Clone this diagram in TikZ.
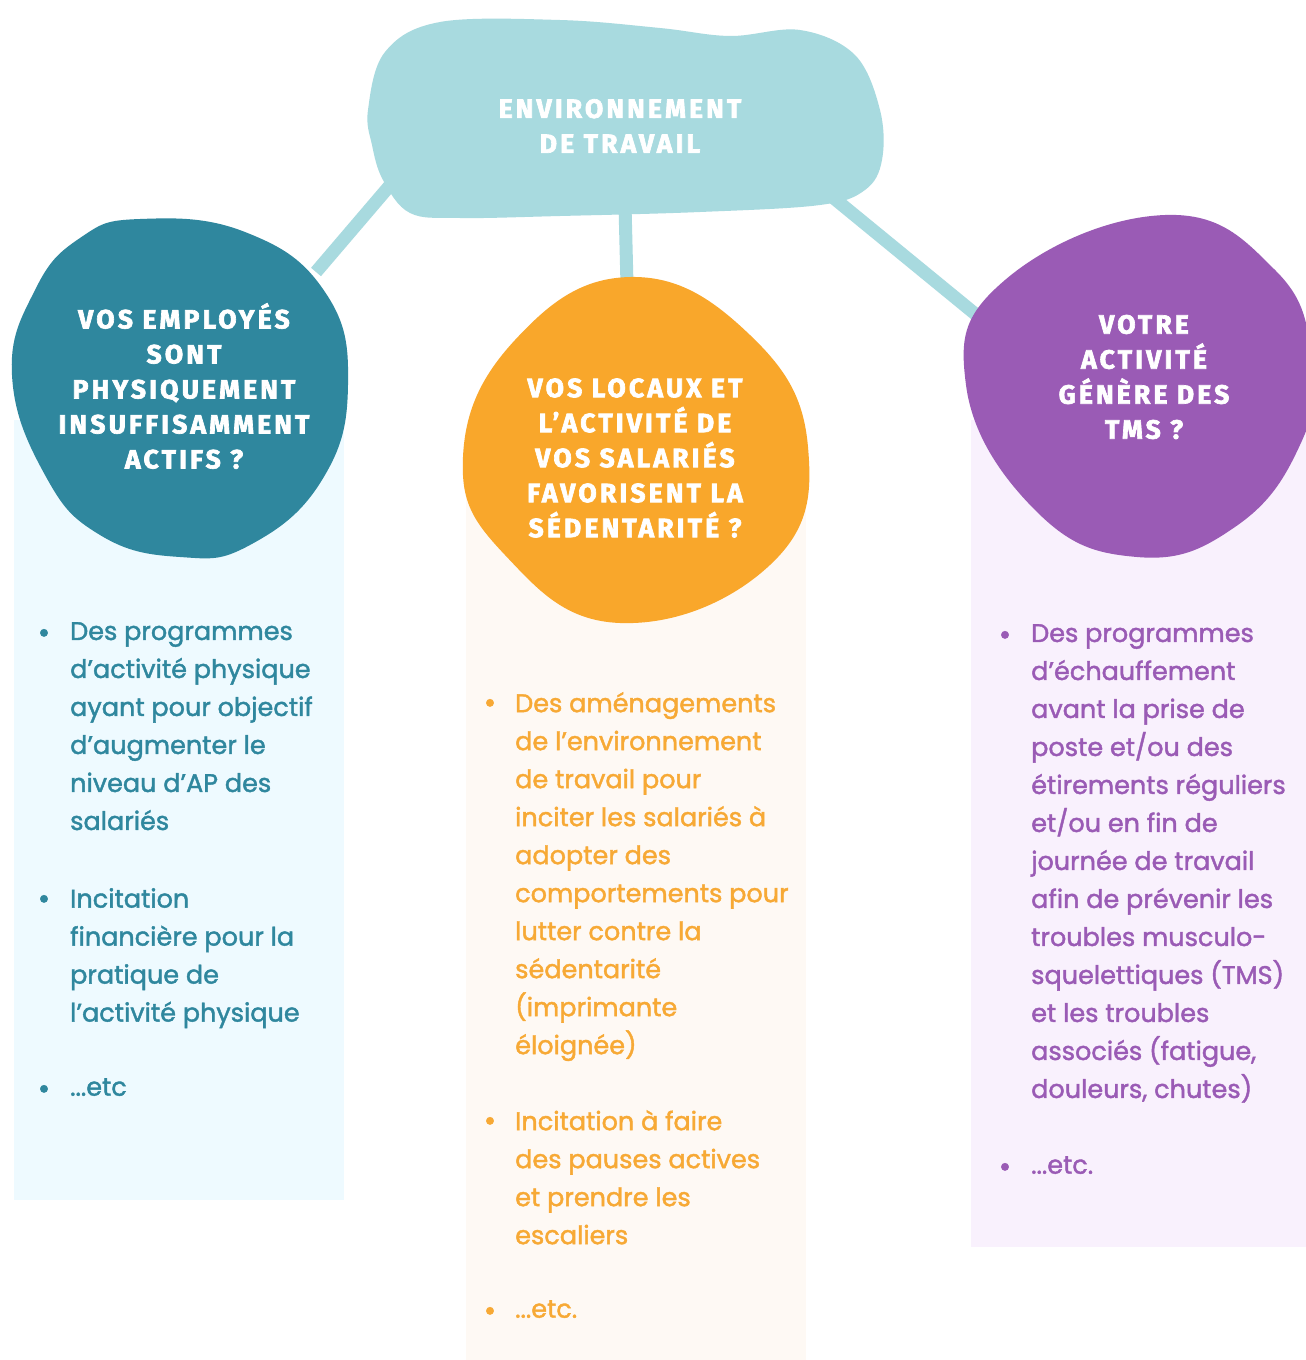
\documentclass[tikz,border=0pt]{standalone}
\usepackage{fontspec}
\setmainfont{Poppins}[FakeBold=1.6]
\newfontfamily\headfont[LetterSpace=12,FakeBold=2.5]{Fira Sans}
\definecolor{blobc}{HTML}{A8DADF}
\definecolor{tealc}{HTML}{2F879E}
\definecolor{orangec}{HTML}{F9A72B}
\definecolor{orangetxt}{HTML}{F7A935}
\definecolor{purplec}{HTML}{9A5BB5}
\definecolor{panelL}{HTML}{EEFAFF}
\definecolor{panelM}{HTML}{FEF9F4}
\definecolor{panelR}{HTML}{F9F1FD}
\tikzset{
  head/.style={text=white, align=center, inner sep=0pt, font=\headfont\bfseries\fontsize{26.5}{35}\selectfont},
  body/.style={anchor=north west, align=left, inner sep=0pt, font=\fontsize{25.5}{38}\selectfont},
  bul/.style={inner sep=0pt, font=\fontsize{30}{38}\selectfont},
  link/.style={line width=13pt, draw=blobc}
}
\begin{document}
\begin{tikzpicture}[x=1pt,y=-1pt]
\fill[white] (0,0) rectangle (1306,1360);
\useasboundingbox (0,0) rectangle (1306,1360);
% panels
\fill[panelL] (14,420) rectangle (344,1200);
\fill[panelM] (466,450) rectangle (806,1360);
\fill[panelR] (971,420) rectangle (1306,1247);
% connector ends
\coordinate (eL1) at (392,183);
\coordinate (eL2) at (316,272);
\coordinate (eM1) at (625,205);
\coordinate (eM2) at (627,285);
\coordinate (eR1) at (830,195);
\coordinate (eR2) at (985,322);
\draw[link] (eL1) -- (eL2);
\draw[link] (eM1) -- (eM2);
\draw[link] (eR1) -- (eR2);
% top blob
\fill[blobc] plot[smooth cycle, tension=0.6] coordinates {
 (368,110) (385,52) (440,22) (560,20) (660,28) (730,36) (800,30) (855,55) (880,110) (882,160) (865,190) (820,205) (700,212) (560,216) (460,218) (410,213) (383,180) (372,145)};
% circles
\fill[tealc] plot[smooth cycle, tension=0.75] coordinates {
 (140,219) (245,232) (325,292) (348,385) (322,480) (250,545) (180,557) (100,535) (45,475) (12,375) (35,290) (80,238)};
\fill[orangec] plot[smooth cycle, tension=0.75] coordinates {
 (630,277) (750,335) (808,447) (770,565) (620,623) (505,555) (463,457) (515,340)};
\fill[purplec] plot[smooth cycle, tension=0.75] coordinates {
 (1165,215) (1275,270) (1312,360) (1300,445) (1235,527) (1137,557) (1035,510) (966,385) (1005,280)};
% headings
\node[head] (top) at (620,126) {ENVIRONNEMENT\\DE TRAVAIL};
\node[head] (hL) at (184,386) {VOS EMPLOYÉS\\SONT\\PHYSIQUEMENT\\INSUFFISAMMENT\\ACTIFS ?};
\node[head] (hM) at (635,458) {VOS LOCAUX ET\\L’ACTIVITÉ DE\\VOS SALARIÉS\\FAVORISENT LA\\SÉDENTARITÉ ?};
\node[head] (hR) at (1144,377) {VOTRE\\ACTIVITÉ\\GÉNÈRE DES\\TMS ?};
% left column
\begin{scope}[text=tealc]
\node[bul] (bL1) at (44,636) {•};
\node[body] (tL1) at (70,622) {Des programmes\\d’activité physique\\ayant pour objectif\\d’augmenter le\\niveau d’AP des\\salariés};
\node[bul] (bL2) at (44,902) {•};
\node[body] (tL2) at (70,888) {Incitation\\financière pour la\\pratique de\\l’activité physique};
\node[bul] (bL3) at (44,1092) {•};
\node[body] (tL3) at (70,1078) {...etc};
\end{scope}
% middle column
\begin{scope}[text=orangetxt]
\node[bul] (bM1) at (490,706) {•};
\node[body] (tM1) at (515,692) {Des aménagements\\de l’environnement\\de travail pour\\inciter les salariés à\\adopter des\\comportements pour\\lutter contre la\\sédentarité\\(imprimante\\éloignée)};
\node[bul] (bM2) at (490,1124) {•};
\node[body] (tM2) at (515,1110) {Incitation à faire\\des pauses actives\\et prendre les\\escaliers};
\node[bul] (bM3) at (490,1314) {•};
\node[body] (tM3) at (515,1300) {...etc.};
\end{scope}
% right column
\begin{scope}[text=purplec]
\node[bul] (bR1) at (1005,638) {•};
\node[body] (tR1) at (1031,624) {Des programmes\\d’échauffement\\avant la prise de\\poste et/ou des\\étirements réguliers\\et/ou en fin de\\journée de travail\\afin de prévenir les\\troubles musculo-\\squelettiques (TMS)\\et les troubles\\associés (fatigue,\\douleurs, chutes)};
\node[bul] (bR2) at (1005,1170) {•};
\node[body] (tR2) at (1031,1156) {...etc.};
\end{scope}
\end{tikzpicture}
\end{document}
